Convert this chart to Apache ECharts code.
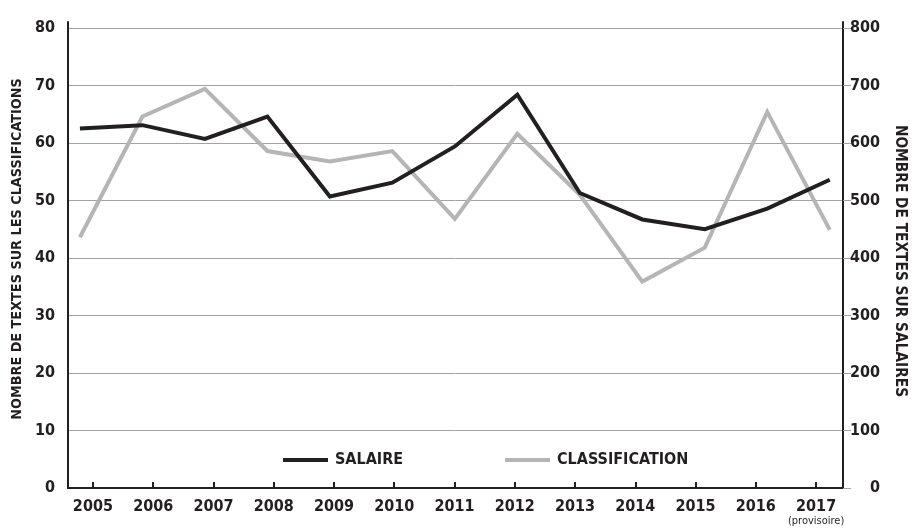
<!DOCTYPE html>
<html>
<head>
<meta charset="utf-8">
<script src="https://cdn.jsdelivr.net/npm/echarts@6/dist/echarts.min.js"></script>
<style>
html,body{margin:0;padding:0;background:#fff;}
#c{width:915px;height:528px;}
</style>
</head>
<body>
<div id="c"></div>
<script>
var years = ['2005','2006','2007','2008','2009','2010','2011','2012','2013','2014','2015','2016','2017'];
var salaire = [625, 631, 607, 646, 507, 531, 594, 684, 513, 467, 450, 486, 536];
var classification = [43.6, 64.6, 69.4, 58.6, 56.8, 58.6, 46.8, 61.6, 51.0, 35.9, 41.8, 65.4, 44.9];
var leftTicks = [0, 10, 20, 30, 40, 50, 60, 70, 80];
var rightTicks = [0, 100, 200, 300, 400, 500, 600, 700, 800];

var FONT = '"DejaVu Sans Condensed","Liberation Sans Narrow",sans-serif';
var DARK = '#231f20';
var GRAY = '#b5b5b7';
var idx = years.map(function (y, i) { return i; });

var chart = echarts.init(document.getElementById('c'), null, {renderer: 'canvas'});
chart.setOption({
  animation: false,
  backgroundColor: '#fff',
  textStyle: {fontFamily: FONT},
  grid: {left: 68, right: 69, top: 22, bottom: 40, containLabel: false},
  legend: [
    {
      data: ['SALAIRE'], left: 283, top: 452, padding: 0, icon: 'rect', itemWidth: 45, itemHeight: 4, itemGap: 0,
      textStyle: {fontFamily: FONT, fontWeight: 'bold', fontSize: 16, color: DARK, padding: [0, 0, 0, 2]}
    },
    {
      data: ['CLASSIFICATION'], left: 505, top: 452, padding: 0, icon: 'rect', itemWidth: 45, itemHeight: 4, itemGap: 0,
      textStyle: {fontFamily: FONT, fontWeight: 'bold', fontSize: 16, color: DARK, padding: [0, 0, 0, 2]}
    }
  ],
  xAxis: [
    {
      type: 'value', position: 'bottom', min: -0.413, max: 12.446,
      axisLine: {show: true, onZero: false, lineStyle: {color: DARK, width: 2}},
      axisTick: {show: true, inside: true, length: 6, customValues: idx, lineStyle: {color: DARK, width: 2}},
      splitLine: {show: false},
      axisLabel: {
        customValues: idx, margin: 10,
        formatter: function (v) {
          var i = Math.round(v);
          if (i === years.length - 1) return '{y|' + years[i] + '}\n{p|(provisoire)}';
          return '{y|' + years[i] + '}';
        },
        rich: {
          y: {fontFamily: FONT, fontWeight: 'bold', fontSize: 16, color: DARK, lineHeight: 17},
          p: {fontFamily: FONT, fontSize: 11, color: DARK, lineHeight: 12}
        },
        verticalAlign: 'top'
      }
    },
    {
      type: 'value', position: 'bottom', min: -0.191, max: 12.212, show: false
    }
  ],
  yAxis: [
    {
      type: 'value', position: 'left', min: 0, max: 81.04, interval: 10,
      name: 'NOMBRE DE TEXTES SUR LES CLASSIFICATIONS', nameLocation: 'middle', nameRotate: 90, nameGap: 36,
      nameTextStyle: {fontFamily: FONT, fontWeight: 'bold', fontSize: 14.3, color: DARK, padding: [0, 0, 0, 12]},
      axisLine: {show: true, onZero: false, lineStyle: {color: DARK, width: 2}},
      axisTick: {show: false},
      axisLabel: {margin: 13, fontFamily: FONT, fontWeight: 'bold', fontSize: 16, color: DARK,
        showMaxLabel: false,
        formatter: function (v) { return leftTicks.indexOf(v) >= 0 ? String(v) : ''; }},
      splitLine: {show: true, showMaxLine: false, lineStyle: {color: '#a3a3a3', width: 1}}
    },
    {
      type: 'value', position: 'right', min: 0, max: 810.4, interval: 100,
      name: 'NOMBRE DE TEXTES SUR SALAIRES', nameLocation: 'middle', nameRotate: -90, nameGap: 49,
      nameTextStyle: {fontFamily: FONT, fontWeight: 'bold', fontSize: 15.3, color: DARK, padding: [0, 0, 0, 12]},
      axisLine: {show: true, onZero: false, lineStyle: {color: DARK, width: 2}},
      axisTick: {show: true, inside: false, length: 8, customValues: rightTicks, lineStyle: {color: '#a3a3a3', width: 1}},
      axisLabel: {margin: 37, align: 'right', customValues: rightTicks, fontFamily: FONT, fontWeight: 'bold', fontSize: 16, color: DARK,
        formatter: function (v) { return rightTicks.indexOf(v) >= 0 ? String(v) : ''; }},
      splitLine: {show: false}
    }
  ],
  series: [
    {
      name: 'CLASSIFICATION', type: 'line', xAxisIndex: 1, yAxisIndex: 0,
      symbol: 'none', color: GRAY,
      lineStyle: {color: GRAY, width: 4, join: 'miter'},
      data: classification.map(function (v, i) { return [i, v]; })
    },
    {
      name: 'SALAIRE', type: 'line', xAxisIndex: 1, yAxisIndex: 1,
      symbol: 'none', color: DARK,
      lineStyle: {color: DARK, width: 4, join: 'miter'},
      data: salaire.map(function (v, i) { return [i, v]; })
    }
  ]
});
</script>
</body>
</html>
